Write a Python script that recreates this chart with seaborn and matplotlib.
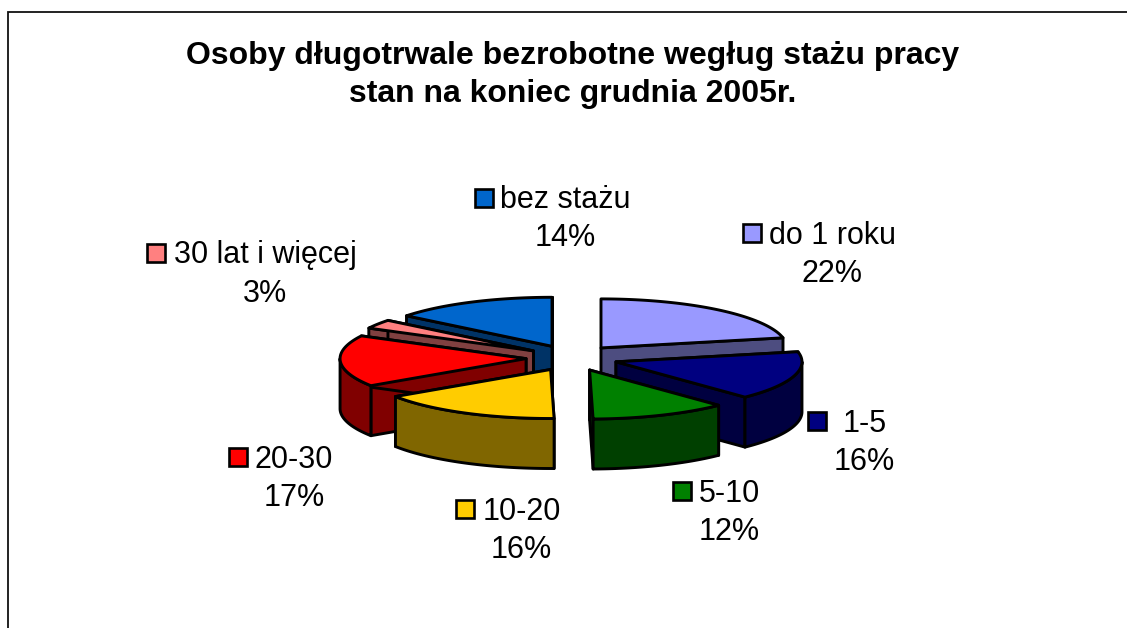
import numpy as np
import matplotlib
matplotlib.use("Agg")
import matplotlib.pyplot as plt
from matplotlib.patches import Polygon, Rectangle
import seaborn as sns

title = "Osoby długotrwale bezrobotne wegług stażu pracy\nstan na koniec grudnia 2005r."
categories = ["do 1 roku", "1-5", "5-10", "10-20", "20-30", "30 lat i więcej", "bez stażu"]
shares = [21.7, 16.1, 11.9, 16.0, 17.0, 3.0, 14.3]
top_colors = ["#9999FF", "#000080", "#008000", "#FFCC00", "#FF0000", "#FF8080", "#0066CC"]
side_colors = ["#4D4D80", "#000040", "#004000", "#806600", "#800000", "#804040", "#003366"]
# legend key centre (x, y), text start x, percent-label centre x
key_x = [752, 817, 682, 465, 238, 156, 484]
key_y = [233, 421, 491, 509, 457, 253, 198]
name_x = [769, 843, 699, 483, 254, 174, 500]
pct_x = [832, 864, 729, 521, 294, 265, 565]

sns.set_theme(style="white")
plt.rcParams["font.family"] = ["Liberation Sans", "DejaVu Sans"]

W, H = 1127, 628
fig = plt.figure(figsize=(W / 100, H / 100), dpi=100)
ax = fig.add_axes([0, 0, 1, 1])
ax.set_xlim(0, W)
ax.set_ylim(H, 0)
ax.axis("off")

# chart frame (only top and left are in view)
ax.plot([7.5, 7.5, W], [H, 12, 12], color="#111111", lw=1.3, solid_joinstyle="miter")

CX, CY, RX, RY = 572, 358, 186, 49
EXP_X, EXP_Y, DEPTH = 46, 13, 50
LW = 2.1

fractions = np.array(shares) / sum(shares) * 360
ends = np.cumsum(fractions)
starts = ends - fractions
mids = np.radians((starts + ends) / 2)
apex_x = CX + EXP_X * np.sin(mids)
apex_y = CY - EXP_Y * np.cos(mids)


def arc(ax0, ay0, a0, a1):
    t = np.radians(np.linspace(a0, a1, 80))
    return np.column_stack([ax0 + RX * np.sin(t), ay0 - RY * np.cos(t)])


def poly(points, color, z):
    ax.add_patch(Polygon(points, closed=True, facecolor=color, edgecolor="black",
                         lw=LW, joinstyle="round", zorder=z))


for z, i in enumerate(np.argsort(apex_y)):
    base = 10 + z * 5
    x0, y0 = apex_x[i], apex_y[i]
    a0, a1 = starts[i], ends[i]
    apex = np.array([[x0, y0]])
    down = np.array([0, DEPTH])
    # radial cut walls
    for a in (a0, a1):
        edge = arc(x0, y0, a, a)[0]
        poly(np.array([apex[0], edge, edge + down, apex[0] + down]), side_colors[i], base)
    # outer rim, front half only
    r0, r1 = max(a0, 90), min(a1, 270)
    if r1 > r0:
        rim = arc(x0, y0, r0, r1)
        poly(np.vstack([rim, (rim + down)[::-1]]), side_colors[i], base + 1)
    # top face
    poly(np.vstack([apex, arc(x0, y0, a0, a1)]), top_colors[i], base + 2)

ax.text(573, 75, title, ha="center", va="center", fontsize=23, fontweight="bold",
        color="black", linespacing=1.33, zorder=100)

for i, name in enumerate(categories):
    ax.add_patch(Rectangle((key_x[i] - 9, key_y[i] - 9), 18, 18, facecolor=top_colors[i],
                           edgecolor="black", lw=1.9, zorder=100))
    ax.text(name_x[i], key_y[i] - 1, name, ha="left", va="center_baseline", fontsize=22,
            color="black", zorder=100)
    ax.text(pct_x[i], key_y[i] + 37, f"{round(shares[i])}%", ha="center", va="center_baseline",
            fontsize=22, color="black", zorder=100)

fig.savefig("out.png", dpi=100, facecolor="white")
